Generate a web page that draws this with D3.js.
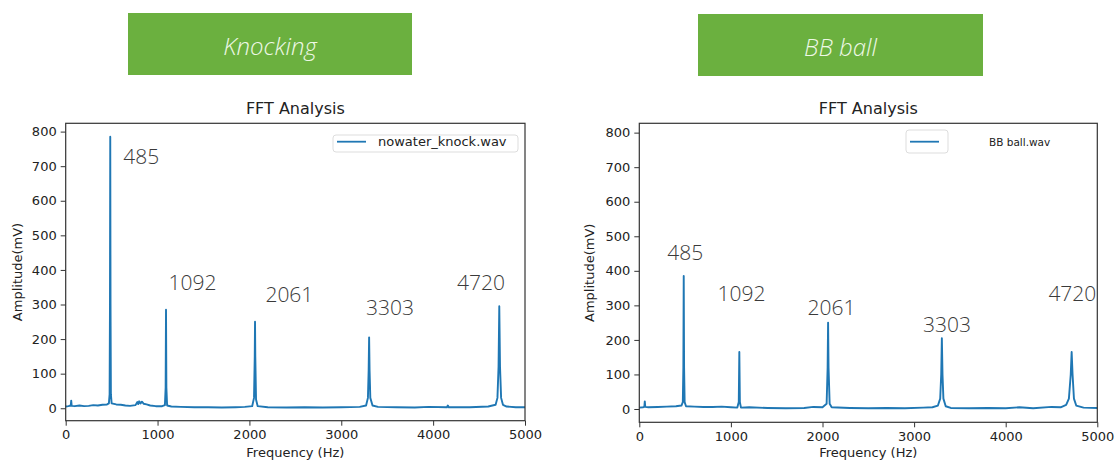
<!DOCTYPE html>
<html>
<head>
<meta charset="utf-8">
<title>FFT Analysis - Knocking vs BB ball</title>
<script src="https://d3js.org/d3.v7.min.js"></script>
<style>
  body { margin: 0; background: #fff; }
  svg { display: block; font-family: "DejaVu Sans", sans-serif; }
  .tick text { font-size: 13px; fill: #222; }
  .tick line { stroke: #333; }
  .banner text { font-family: "Open Sans", sans-serif; font-style: italic; font-weight: 300; font-size: 24px; fill: #eef8e6; }
  .peak { font-family: "Open Sans", sans-serif; font-weight: 300; font-size: 21px; fill: #3a3a3a; }
  .title { font-size: 16px; fill: #222; }
  .axis-label { font-size: 13px; fill: #222; }
</style>
</head>
<body>
<svg id="chart" width="1117" height="463"></svg>
<script>
const freqTicks = [0, 1000, 2000, 3000, 4000, 5000];
const ampTicks = [0, 100, 200, 300, 400, 500, 600, 700, 800];
const peakLabels = ["485", "1092", "2061", "3303", "4720"];

// [frequency Hz, amplitude mV]
const knockSpectrum = [
  [0,5],[30,6],[55,8],[60,22],[65,7],[100,6],[150,8],[200,6],[250,7],[300,9],
  [350,8],[400,10],[450,11],[470,14],[478,40],[482,300],[485,785],[488,300],[492,40],[500,14],
  [550,11],[600,10],[650,8],[700,7],[760,9],[780,18],[790,12],[800,20],[815,14],[830,19],
  [850,13],[880,11],[920,8],[980,6],[1050,6],[1080,9],[1088,60],[1092,285],[1096,60],[1104,8],
  [1150,5],[1250,4],[1400,3],[1550,3],[1700,2],[1850,3],[1950,4],[2030,6],[2050,30],[2058,150],
  [2061,250],[2064,150],[2072,25],[2090,6],[2200,3],[2400,2],[2600,3],[2800,2],[3000,3],[3200,4],
  [3270,8],[3290,30],[3298,110],[3303,205],[3308,110],[3316,30],[3340,8],[3400,4],[3600,3],[3800,2],
  [3950,4],[4150,3],[4160,8],[4170,3],[4400,3],[4600,5],[4680,10],[4700,30],[4712,120],[4720,295],
  [4728,120],[4740,30],[4760,10],[4800,5],[4900,3],[5000,3]
];
const ballSpectrum = [
  [0,4],[40,5],[55,6],[60,22],[65,6],[100,5],[200,6],[300,7],[400,8],[460,10],
  [475,20],[481,120],[485,385],[489,120],[495,20],[510,8],[600,7],[700,6],[800,6],[900,7],
  [1000,5],[1070,4],[1086,20],[1092,165],[1098,20],[1110,4],[1200,5],[1400,3],[1600,2],[1800,3],
  [1900,6],[2000,5],[2045,15],[2056,120],[2061,250],[2066,120],[2078,15],[2100,5],[2300,3],[2500,2],
  [2700,3],[2900,2],[3100,4],[3200,5],[3260,10],[3285,30],[3296,100],[3303,205],[3310,100],[3320,30],
  [3345,8],[3400,3],[3600,2],[3800,3],[4000,2],[4150,5],[4300,2],[4500,6],[4600,5],[4660,12],
  [4690,30],[4710,100],[4720,165],[4730,100],[4745,30],[4770,10],[4850,4],[5000,3]
];
// where each peak label sits, in data units [Hz, mV]
const knockLabelAt = [[626,706],[1120,342],[2174,306],[3269,270],[4260,342]];
const ballLabelAt = [[306,431],[853,313],[1837,272],[3097,224],[4466,313]];

const svg = d3.select("#chart");

const panels = [
  { banner: "Knocking", box: [128, 13, 284, 62], legend: "nowater_knock.wav",
    data: knockSpectrum, labels: knockLabelAt,
    left: 65.7, right: 525, top: 123.3, bottom: 420.7, ylo: -36, yhi: 824,
    lg: { x: 333, y: 135, w: 185, h: 17, tx: 378, fs: 13 }, ylabX: 22 },
  { banner: "BB ball", box: [698, 14, 285, 62], legend: "BB ball.wav",
    data: ballSpectrum, labels: ballLabelAt,
    left: 639.3, right: 1097.3, top: 123.3, bottom: 422.3, ylo: -38.5, yhi: 827,
    lg: { x: 906, y: 130, w: 42, h: 23, tx: 989, fs: 10.5 }, ylabX: 594 }
];

panels.forEach(p => {
  // green heading box
  const b = svg.append("g").attr("class", "banner");
  b.append("rect")
    .attr("x", p.box[0]).attr("y", p.box[1])
    .attr("width", p.box[2]).attr("height", p.box[3])
    .attr("fill", "#6bb03f");
  b.append("text")
    .attr("x", p.box[0] + p.box[2] / 2).attr("y", p.box[1] + 42)
    .attr("text-anchor", "middle")
    .text(p.banner);

  const x = d3.scaleLinear().domain([0, 5000]).range([p.left, p.right]);
  const y = d3.scaleLinear().domain([p.ylo, p.yhi]).range([p.bottom, p.top]);

  svg.append("g")
    .attr("transform", `translate(0,${p.bottom})`)
    .call(d3.axisBottom(x).tickValues(freqTicks).tickFormat(d3.format("d")).tickSize(5).tickPadding(4))
    .call(g => g.select(".domain").remove());
  svg.append("g")
    .attr("transform", `translate(${p.left},0)`)
    .call(d3.axisLeft(y).tickValues(ampTicks).tickFormat(d3.format("d")).tickSize(5).tickPadding(4))
    .call(g => g.select(".domain").remove());
  svg.selectAll(".tick text").attr("font-family", "DejaVu Sans");

  const line = d3.line().x(d => x(d[0])).y(d => y(d[1]));
  svg.append("path")
    .datum(p.data)
    .attr("d", line)
    .attr("fill", "none")
    .attr("stroke", "#1f77b4")
    .attr("stroke-width", 1.9)
    .attr("stroke-linejoin", "round");

  // frame
  svg.append("rect")
    .attr("x", p.left).attr("y", p.top)
    .attr("width", p.right - p.left).attr("height", p.bottom - p.top)
    .attr("fill", "none").attr("stroke", "#333").attr("stroke-width", 1.2);

  svg.append("g").selectAll("text")
    .data(peakLabels)
    .join("text")
    .attr("class", "peak")
    .attr("x", (d, i) => x(p.labels[i][0]))
    .attr("y", (d, i) => y(p.labels[i][1]))
    .text(d => d);

  // legend
  const lg = svg.append("g");
  lg.append("rect")
    .attr("x", p.lg.x).attr("y", p.lg.y).attr("width", p.lg.w).attr("height", p.lg.h)
    .attr("rx", 3).attr("fill", "#fff").attr("stroke", "#ddd");
  lg.append("line")
    .attr("x1", p.lg.x + 4).attr("x2", p.lg.x + 33)
    .attr("y1", 141.7).attr("y2", 141.7)
    .attr("stroke", "#1f77b4").attr("stroke-width", 1.8);
  lg.append("text")
    .attr("x", p.lg.tx).attr("y", 146)
    .attr("font-size", p.lg.fs).attr("fill", "#222")
    .text(p.legend);

  const cx = (p.left + p.right) / 2;
  svg.append("text").attr("class", "title")
    .attr("x", cx).attr("y", 114).attr("text-anchor", "middle")
    .text("FFT Analysis");
  svg.append("text").attr("class", "axis-label")
    .attr("x", cx).attr("y", 457).attr("text-anchor", "middle")
    .text("Frequency (Hz)");
  svg.append("text").attr("class", "axis-label")
    .attr("transform", `translate(${p.ylabX},${(p.top + p.bottom) / 2}) rotate(-90)`)
    .attr("text-anchor", "middle")
    .text("Amplitude(mV)");
});
</script>
</body>
</html>
